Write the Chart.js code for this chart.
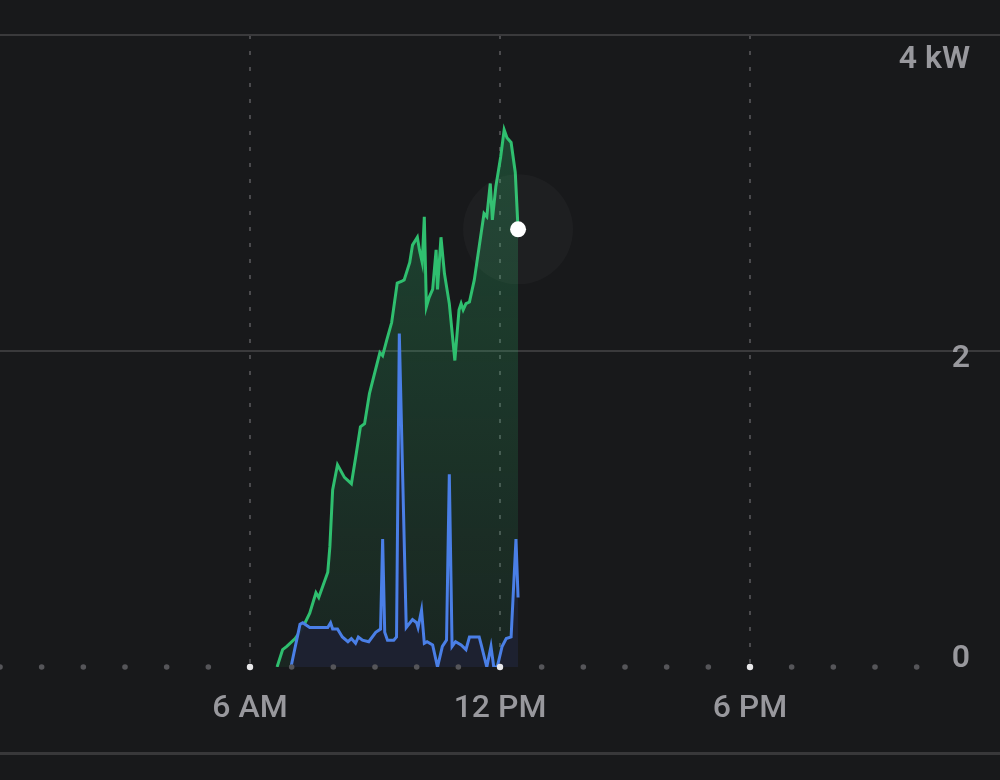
<!DOCTYPE html>
<html>
<head>
<meta charset="utf-8">
<script src="https://cdn.jsdelivr.net/npm/chart.js@4.4.1/dist/chart.umd.min.js"></script>
<style>
  html, body { margin: 0; padding: 0; background: #18191b; }
  #wrap { position: relative; width: 1000px; height: 752px; }
  #sep { width: 1000px; height: 3px; background: #38383a; }
</style>
</head>
<body>
<div id="wrap"><canvas id="power"></canvas></div>
<div id="sep"></div>
<script>
// solar production (green)
const solarTimes = ['6:39','6:47','6:53','7:05','7:16','7:26','7:35','7:39','7:52','7:55','7:59','8:06','8:16','8:26','8:33','8:39','8:45','8:52','9:07','9:11','9:17','9:24','9:32','9:38','9:42','9:50','9:54','10:01','10:04','10:08','10:11','10:14','10:18','10:23','10:28','10:30','10:35','10:40','10:47','10:55','11:01','11:04','11:07','11:11','11:16','11:23','11:30','11:37','11:41','11:46','11:49','11:54','12:01','12:06','12:10','12:16','12:22','12:26'];
const solarKw = [0,0.11,0.13,0.18,0.25,0.34,0.47,0.44,0.60,0.76,1.12,1.28,1.20,1.16,1.35,1.52,1.54,1.73,1.99,1.97,2.07,2.18,2.43,2.44,2.45,2.56,2.67,2.72,2.64,2.56,2.85,2.28,2.34,2.39,2.64,2.39,2.72,2.49,2.30,1.94,2.26,2.30,2.26,2.30,2.31,2.45,2.66,2.87,2.85,3.06,2.83,3.04,3.23,3.40,3.35,3.32,3.13,2.77];

// home usage (blue)
const homeTimes = ['6:59','7:12','7:16','7:26','7:52','7:56','7:59','8:06','8:13','8:21','8:26','8:32','8:36','8:42','8:51','9:01','9:08','9:11','9:14','9:18','9:27','9:31','9:35','9:45','9:54','10:00','10:02','10:07','10:11','10:15','10:23','10:30','10:37','10:43','10:47','10:51','10:56','11:04','11:11','11:16','11:30','11:33','11:41','11:47','11:51','11:56','12:03','12:09','12:16','12:23','12:26'];
const homeKw = [0,0.27,0.28,0.25,0.25,0.28,0.24,0.24,0.19,0.16,0.18,0.15,0.19,0.17,0.16,0.22,0.24,0.81,0.22,0.17,0.17,0.19,2.11,0.25,0.30,0.28,0.25,0.36,0.15,0.16,0.14,0,0.13,0.17,1.22,0.13,0.16,0.14,0.11,0.19,0.19,0.14,0,0.13,0,0,0.13,0.18,0.19,0.81,0.44];

const hourMarks = [0,1,2,3,4,5,6,7,8,9,10,11,12,13,14,15,16,17,18,19,20,21,22];
const majorHours = [6, 12, 18];
const xTickLabels = {6: '6 AM', 12: '12 PM', 18: '6 PM'};
const yTicks = [0, 2, 4];
const yTickLabels = ['0', '2', '4 kW'];

function toHours(t) {
    const p = t.split(':').map(Number);
    return p[0] + p[1] / 60;
}
function points(times, vals) {
    return times.map((t, i) => ({x: toHours(t), y: vals[i]}));
}

const solar = points(solarTimes, solarKw);
const home = points(homeTimes, homeKw);
const last = solar[solar.length - 1];

// right side kW labels, drawn inside the plot
const yLabels = {
    id: 'yLabels',
    afterDraw(chart) {
        const s = chart.scales.y;
        const c = chart.ctx;
        c.save();
        c.font = '600 32px Roboto';
        c.fillStyle = '#98989d';
        c.textAlign = 'right';
        c.textBaseline = 'middle';
        yTicks.forEach((v, i) => {
            let off = 8;
            if (v === s.max) off = 25;
            if (v === s.min) off = -8;
            c.fillText(yTickLabels[i], chart.chartArea.right - 30, s.getPixelForValue(v) + off);
        });
        c.restore();
    }
};

const ctx = document.getElementById('power').getContext('2d');
const chart = new Chart(ctx, {
    type: 'line',
    data: {
        datasets: [
            {
                label: 'hours',
                data: hourMarks.map(h => ({x: h, y: 0})),
                showLine: false,
                clip: false,
                pointRadius: c => majorHours.includes(hourMarks[c.dataIndex]) ? 3.2 : 2.8,
                pointBackgroundColor: c => majorHours.includes(hourMarks[c.dataIndex]) ? '#e8e8ea' : '#555559',
                pointBorderWidth: 0,
                order: 0
            },
            {
                label: 'Home',
                data: home,
                borderColor: '#4a7fe6',
                borderWidth: 3,
                backgroundColor: 'rgba(30,34,50,0.95)',
                fill: 'origin',
                pointRadius: 0,
                tension: 0,
                order: 1
            },
            {
                label: 'halo',
                data: [last],
                showLine: false,
                pointRadius: 55,
                pointBackgroundColor: 'rgba(255,255,255,0.028)',
                pointBorderWidth: 0,
                order: 2
            },
            {
                label: 'Solar',
                data: solar,
                borderColor: '#2fbf6f',
                borderWidth: 3,
                backgroundColor: c => {
                    const a = c.chart.chartArea;
                    if (!a) return 'rgba(47,191,111,0.15)';
                    const g = c.chart.ctx.createLinearGradient(0, a.top, 0, a.bottom);
                    g.addColorStop(0, 'rgba(47,191,111,0.3)');
                    g.addColorStop(1, 'rgba(47,191,111,0.08)');
                    return g;
                },
                fill: 'origin',
                tension: 0,
                pointRadius: c => c.dataIndex === solar.length - 1 ? 8 : 0,
                pointBackgroundColor: '#ffffff',
                pointBorderWidth: 0,
                order: 3
            }
        ]
    },
    options: {
        responsive: true,
        maintainAspectRatio: false,
        animation: false,
        events: [],
        layout: {autoPadding: false, padding: {top: 35, left: 0, right: 0, bottom: 0}},
        plugins: {legend: {display: false}, tooltip: {enabled: false}},
        scales: {
            x: {
                type: 'linear',
                min: 0,
                max: 24,
                border: {display: false, dash: [4, 12]},
                grid: {
                    color: c => (c.tick && (c.tick.value === 0 || c.tick.value === 24)) ? 'transparent' : '#4a4a4d',
                    lineWidth: 2,
                    drawTicks: false
                },
                ticks: {
                    stepSize: 6,
                    autoSkip: false,
                    maxRotation: 0,
                    padding: 23,
                    color: '#98989d',
                    font: {family: 'Roboto', size: 32, weight: '500'},
                    callback: v => xTickLabels[v] || ''
                },
                afterFit: s => { s.height = 85; s.paddingLeft = 0; s.paddingRight = 0; }
            },
            y: {
                position: 'right',
                min: 0,
                max: 4,
                border: {display: false},
                grid: {
                    color: c => c.tick.value === 0 ? 'transparent' : '#3a3a3c',
                    lineWidth: 2,
                    drawTicks: false
                },
                ticks: {stepSize: 2, display: false},
                afterFit: s => { s.width = 0; s.paddingTop = 0; s.paddingBottom = 0; }
            }
        }
    },
    plugins: [yLabels]
});
</script>
</body>
</html>
